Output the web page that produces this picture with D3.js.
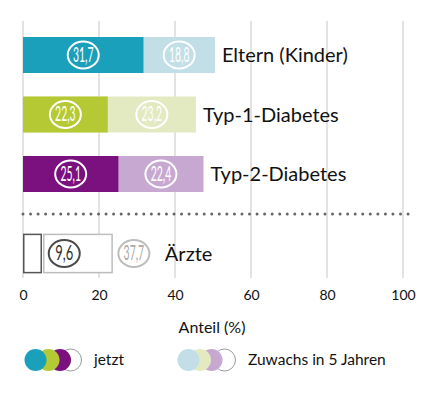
<!DOCTYPE html>
<html><head><meta charset="utf-8">
<script src="https://cdn.jsdelivr.net/npm/d3@7"></script>
<style>
html,body{margin:0;padding:0;background:#fff;}
svg{display:block;font-family:Lato, "Open Sans", sans-serif;}
</style></head>
<body>
<svg id="chart" width="437" height="397"></svg>
<script>
// ---- data ----
const categories = ["Eltern (Kinder)", "Typ-1-Diabetes", "Typ-2-Diabetes"];
const jetzt = [31.7, 22.3, 25.1];
const zuwachs = [18.8, 23.2, 22.4];
const aerzteCategory = "Ärzte";
const aerzteLabels = ["9,6", "37,7"];
const aerzteBalken = [4.8, 23.65];         // outline bars as drawn (jetzt, gesamt)
const ticks = [0, 20, 40, 60, 80, 100];
const axisTitle = "Anteil (%)";
const legendLabels = ["jetzt", "Zuwachs in 5 Jahren"];

const darkColors = ["#1ba0bb", "#b5c934", "#7b107f"];
const lightColors = ["#c2dee7", "#e3e9c1", "#c7a8d1"];

const fmt = v => d3.format(".1f")(v).replace(".", ",");

// ---- scales ----
const svg = d3.select("#chart");
const x = d3.scaleLinear().domain([0, 100]).range([23, 403]);
const y = d3.scaleBand().domain(categories).range([25.25, 203.75])
  .paddingInner(0.395).paddingOuter(0.1975);
const yA = d3.scaleBand().domain([aerzteCategory]).range([226, 281]).padding(0.18);

// grid
svg.append("g").selectAll("line").data(ticks).join("line")
  .attr("x1", d => x(d)).attr("x2", d => x(d))
  .attr("y1", 21).attr("y2", 278)
  .attr("stroke", "#dcd8d4").attr("stroke-width", 1.5);

// axis tick labels
const axis = d3.axisBottom(x).tickValues(ticks).tickSize(0).tickPadding(0);
const ag = svg.append("g").attr("transform", "translate(0,290)").call(axis);
ag.select(".domain").remove();
ag.selectAll("text").attr("font-size", 14).attr("font-family", "Lato").attr("fill", "#111")
  .attr("dy", "0.71em");

svg.append("text").attr("x", 212).attr("y", 333).attr("text-anchor", "middle")
  .attr("font-size", 16).attr("fill", "#111").text(axisTitle);

// bars
const rows = svg.append("g").selectAll("g").data(categories).join("g");
rows.append("rect")
  .attr("x", x(0)).attr("y", d => y(d))
  .attr("width", (d, i) => x(jetzt[i] + zuwachs[i]) - x(0)).attr("height", y.bandwidth())
  .attr("fill", (d, i) => lightColors[i]);
rows.append("rect")
  .attr("x", x(0)).attr("y", d => y(d))
  .attr("width", (d, i) => x(jetzt[i]) - x(0)).attr("height", y.bandwidth())
  .attr("fill", (d, i) => darkColors[i]);

function bubble(g, cx, cy, label, stroke, fill) {
  g.append("ellipse").attr("cx", cx).attr("cy", cy).attr("rx", 15.5).attr("ry", 13.5)
    .attr("fill", "none").attr("stroke", stroke).attr("stroke-width", 2);
  g.append("text").attr("x", cx).attr("y", cy).attr("dy", "0.34em")
    .attr("text-anchor", "middle").attr("font-size", 20.5).attr("fill", fill)
    .attr("textLength", label.length > 3 ? 20.5 : 18).attr("lengthAdjust", "spacingAndGlyphs")
    .text(label);
}
rows.each(function (d, i) {
  const g = d3.select(this);
  const cy = y(d) + y.bandwidth() / 2;
  bubble(g, x(jetzt[i] / 2), cy, fmt(jetzt[i]), "#fff", "#fff");
  bubble(g, x(jetzt[i] + zuwachs[i] / 2), cy, fmt(zuwachs[i]), "#fff", "#fff");
  g.append("text").attr("x", x(jetzt[i] + zuwachs[i]) + 7).attr("y", cy).attr("dy", "0.36em")
    .attr("font-size", 20).attr("fill", "#111").text(d);
});

// separator
svg.append("line").attr("x1", 23).attr("x2", 415).attr("y1", 214).attr("y2", 214)
  .attr("stroke", "#666").attr("stroke-width", 3).attr("stroke-linecap", "round")
  .attr("stroke-dasharray", "0 7.55");

// Ärzte row
const ga = svg.append("g");
const ay = yA(aerzteCategory), ah = yA.bandwidth();
const acy = ay + ah / 2;
ga.append("rect").attr("x", x(0) + 0.75).attr("y", ay)
  .attr("width", x(aerzteBalken[0]) - x(0) - 0.75).attr("height", ah)
  .attr("fill", "#fff").attr("stroke", "#555").attr("stroke-width", 1.5);
ga.append("rect").attr("x", x(aerzteBalken[0]) + 2.5).attr("y", ay)
  .attr("width", x(aerzteBalken[1]) - x(aerzteBalken[0]) - 3.25).attr("height", ah)
  .attr("fill", "#fff").attr("stroke", "#bdbdbd").attr("stroke-width", 1.5);
bubble(ga, x(aerzteBalken[0]) + 2 + 21, acy, aerzteLabels[0], "#4a4a4a", "#333");
bubble(ga, x(aerzteBalken[1]) + 21, acy, aerzteLabels[1], "#bdbdbd", "#aaa");
ga.append("text").attr("x", x(aerzteBalken[1]) + 52).attr("y", acy).attr("dy", "0.36em")
  .attr("font-size", 20).attr("fill", "#111").text(aerzteCategory);

// legend
function legendGroup(cxs, colors, labelX, label) {
  const g = svg.append("g");
  const items = cxs.map((c, i) => ({ c, col: colors[i] })).reverse();
  g.selectAll("circle").data(items).join("circle")
    .attr("cx", d => d.c).attr("cy", 360).attr("r", 11)
    .attr("fill", d => d.col || "#fff")
    .attr("stroke", d => d.col ? "none" : "#999").attr("stroke-width", 1);
  g.append("text").attr("x", labelX).attr("y", 365).attr("font-size", 15.5)
    .attr("fill", "#111").text(label);
}
legendGroup([35.5, 48.5, 60, 70.5], darkColors.concat([null]), 94, legendLabels[0]);
legendGroup([188.5, 200, 211.5, 224.5], lightColors.concat([null]), 248, legendLabels[1]);
</script>
</body></html>
